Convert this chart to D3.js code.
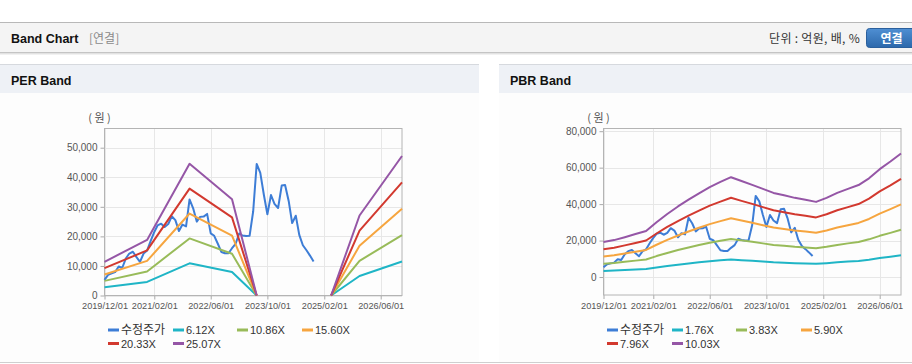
<!DOCTYPE html>
<html>
<head>
<meta charset="utf-8">
<script src="https://cdn.jsdelivr.net/npm/d3@7"></script>
<style>
  body { margin: 0; background: #fff; }
  svg { display: block; font-family: "Liberation Sans", Arial, "Noto Sans CJK KR", sans-serif; }
</style>
</head>
<body>
<div id="chart"></div>
<script>
// monthly adjusted price (수정주가), starting 2019/12
const priceStart = "2019-12";
const priceValues = [
  5300, 7000, 7500, 7900, 9800, 9300, 12500, 14200, 14800, 13000,
  11400, 14200, 15200, 18500, 21500, 23700, 24300, 23200, 24200, 26800,
  25500, 21800, 24000, 23400, 32500, 29500, 25000, 26600, 26700, 27600,
  21000, 20200, 17500, 14700, 14300, 14300, 16000, 17500, 21000, 20300,
  20100, 20200, 28500, 44500, 41500, 34000, 27500, 34000, 31000, 29600,
  37200, 37400, 32000, 24500, 27000, 20500, 17000, 15300, 13500, 11500
];

// PER band: EPS base points (null = no band)
const perDates = ["2019-12", "2020-12", "2021-12", "2022-12", "2023-07", "2024-06", "2025-04", "2025-12", "2026-12"];
const perEps = [455, 750, 1778, 1300, 0, null, 0, 1080, 1883];
const perMultiples = [6.12, 10.86, 15.60, 20.33, 25.07];

// PBR band: BPS base points
const pbrDates = [
  "2019-12", "2020-03", "2020-06", "2020-09", "2020-12", "2021-03", "2021-06", "2021-09",
  "2021-12", "2022-03", "2022-06", "2022-09", "2022-12", "2023-03", "2023-06", "2023-09",
  "2023-12", "2024-03", "2024-06", "2024-09", "2024-12", "2025-03", "2025-06", "2025-09",
  "2025-12", "2026-03", "2026-06", "2026-09", "2026-12"
];
const pbrBps = [
  1910, 2020, 2180, 2350, 2520, 3000, 3450, 3860,
  4230, 4580, 4920, 5200, 5460, 5250, 5040, 4820,
  4600, 4470, 4330, 4230, 4110, 4330, 4600, 4820,
  5030, 5400, 5900, 6320, 6760
];
const pbrMultiples = [1.76, 3.83, 5.90, 7.96, 10.03];

const xTickLabels = ["2019/12/01", "2021/02/01", "2022/06/01", "2023/10/01", "2025/02/01", "2026/06/01"];
const perYTicks = [0, 10000, 20000, 30000, 40000, 50000];
const pbrYTicks = [0, 20000, 40000, 60000, 80000];

const priceName = "수정주가";
const priceColor = "#3d7dd6";
const bandColors = ["#1fb5c6", "#98bb59", "#f6a53f", "#d2392f", "#9556a6"];

const W = 912, H = 364;
const parseMonth = d3.timeParse("%Y-%m");
const parseTick = d3.timeParse("%Y/%m/%d");

const svg = d3.select("#chart").append("svg").attr("width", W).attr("height", H);

// top title bar
svg.append("rect").attr("x", 0).attr("y", 22).attr("width", W).attr("height", 31).attr("fill", "#f4f4f4");
svg.append("line").attr("x1", 0).attr("x2", W).attr("y1", 22.5).attr("y2", 22.5).attr("stroke", "#b8b8b8");
[["#c4c4c4", 52.5], ["#e2e2e2", 53.5], ["#f1f1f1", 54.5]].forEach(([c, y]) =>
  svg.append("line").attr("x1", 0).attr("x2", W).attr("y1", y).attr("y2", y).attr("stroke", c));

svg.append("text").attr("x", 11).attr("y", 42.5).text("Band Chart")
  .style("font-size", "12.5px").style("font-weight", "bold").style("fill", "#111");
svg.append("text").attr("x", 89).attr("y", 42.5).text("[연결]")
  .style("font-family", "'Noto Sans CJK KR'").style("font-size", "12px").style("fill", "#8a8a8a");
svg.append("text").attr("x", 860).attr("y", 42.5).attr("text-anchor", "end").text("단위 : 억원, 배, %")
  .style("font-family", "'Noto Sans CJK KR'").style("font-size", "12px").style("letter-spacing", "0.3px").style("fill", "#333");

const grad = svg.append("defs").append("linearGradient").attr("id", "btn").attr("x1", 0).attr("x2", 0).attr("y1", 0).attr("y2", 1);
grad.append("stop").attr("offset", 0).attr("stop-color", "#4f8fd3");
grad.append("stop").attr("offset", 1).attr("stop-color", "#2c68ab");
svg.append("rect").attr("x", 866.5).attr("y", 28.5).attr("width", 52).attr("height", 19).attr("rx", 3)
  .attr("fill", "url(#btn)").attr("stroke", "#2a5f9c");
svg.append("text").attr("x", 891.5).attr("y", 42.5).attr("text-anchor", "middle").text("연결")
  .style("font-family", "'Noto Sans CJK KR'").style("font-size", "12px").style("font-weight", "bold").style("fill", "#fff");

// bottom rule
svg.append("line").attr("x1", 0).attr("x2", W).attr("y1", 362.5).attr("y2", 362.5).attr("stroke", "#cfcfcf");

function drawPanel(opt) {
  const g = svg.append("g");
  g.append("rect").attr("x", opt.px).attr("y", 93).attr("width", opt.pw).attr("height", 269).attr("fill", "#fdfdfd");
  g.append("rect").attr("x", opt.px).attr("y", 64).attr("width", opt.pw).attr("height", 29).attr("fill", "#eef1f6");
  g.append("line").attr("x1", opt.px).attr("x2", opt.px + opt.pw).attr("y1", 64.5).attr("y2", 64.5).attr("stroke", "#d6d9de");
  g.append("text").attr("x", opt.px + 11).attr("y", 85).text(opt.title)
    .style("font-size", "12.5px").style("font-weight", "bold").style("fill", "#111");

  const { left, right, top, bottom } = opt;
  const x = d3.scaleTime().domain([parseMonth("2019-12"), parseMonth("2026-12")]).range([left, right]);
  const y = d3.scaleLinear().domain(opt.yDomain).range([bottom, top]);
  const tickDates = xTickLabels.map(parseTick);

  // grid
  g.append("g").selectAll("line").data(opt.yTicks).join("line")
    .attr("x1", left).attr("x2", right).attr("y1", d => Math.round(y(d)) + 0.5).attr("y2", d => Math.round(y(d)) + 0.5)
    .attr("stroke", "#e7e7e7");
  g.append("g").selectAll("line").data(tickDates).join("line")
    .attr("y1", top).attr("y2", bottom).attr("x1", d => Math.round(x(d)) + 0.5).attr("x2", d => Math.round(x(d)) + 0.5)
    .attr("stroke", "#e7e7e7");

  // axes
  const yAxis = g.append("g").attr("transform", `translate(${left},0)`)
    .call(d3.axisLeft(y).tickValues(opt.yTicks).tickSize(4).tickPadding(3).tickFormat(d3.format(",")));
  yAxis.select(".domain").remove();
  yAxis.selectAll("line").attr("stroke", "#aaa");
  yAxis.selectAll("text").style("font-size", "10px").style("fill", "#555").style("font-family", "'Liberation Sans', Arial");

  const xAxis = g.append("g").attr("transform", `translate(0,${bottom})`)
    .call(d3.axisBottom(x).tickValues(tickDates).tickSize(4).tickPadding(3).tickFormat(d3.timeFormat("%Y/%m/%d")));
  xAxis.select(".domain").remove();
  xAxis.selectAll("line").attr("stroke", "#aaa");
  xAxis.selectAll("text").style("font-size", "9.2px").style("fill", "#555").style("font-family", "'Liberation Sans', Arial");

  g.append("rect").attr("x", left).attr("y", top).attr("width", right - left).attr("height", bottom - top)
    .attr("fill", "none").attr("stroke", "#b4b4b4");

  g.append("text").attr("x", left - 5).attr("y", 122).attr("text-anchor", "middle").text("( 원 )")
    .style("font-family", "'Noto Sans CJK KR'").style("font-size", "11px").style("fill", "#555");

  const line = d3.line().defined(d => d.v != null).x(d => x(d.date)).y(d => y(d.v));

  const price = priceValues.map((v, i) => ({ date: d3.timeMonth.offset(parseMonth(priceStart), i), v }));
  g.append("path").datum(price).attr("d", line).attr("fill", "none")
    .attr("stroke", priceColor).attr("stroke-width", 2).attr("stroke-linejoin", "round");

  opt.multiples.forEach((m, k) => {
    const band = opt.baseDates.map((d, i) => ({ date: parseMonth(d), v: opt.base[i] == null ? null : opt.base[i] * m }));
    g.append("path").datum(band).attr("d", line).attr("fill", "none")
      .attr("stroke", bandColors[k]).attr("stroke-width", 2).attr("stroke-linejoin", "round");
  });

  // legend
  const items = [{ name: priceName, color: priceColor }]
    .concat(opt.multiples.map((m, k) => ({ name: m.toFixed(2) + "X", color: bandColors[k] })));
  const colX = [0, 65, 129, 194];
  const lg = g.append("g").attr("transform", `translate(${left + 3.5},0)`);
  items.forEach((it, i) => {
    const cx = colX[i % 4], cy = i < 4 ? 330 : 343.5;
    lg.append("line").attr("x1", cx).attr("x2", cx + 11).attr("y1", cy).attr("y2", cy)
      .attr("stroke", it.color).attr("stroke-width", 3);
    lg.append("text").attr("x", cx + 13).attr("y", cy + 4).text(it.name)
      .style("font-family", i === 0 ? "'Noto Sans CJK KR'" : "'Liberation Sans', Arial")
      .style("font-size", i === 0 ? "12px" : "11px").style("fill", "#333");
  });
}

drawPanel({
  title: "PER Band", px: 0, pw: 479,
  left: 104.5, right: 402, top: 128.5, bottom: 295.5,
  yDomain: [0, 56500], yTicks: perYTicks,
  baseDates: perDates, base: perEps, multiples: perMultiples
});

drawPanel({
  title: "PBR Band", px: 499, pw: 413,
  left: 603.5, right: 901, top: 128.5, bottom: 295,
  yDomain: [-9860, 81480], yTicks: pbrYTicks,
  baseDates: pbrDates, base: pbrBps, multiples: pbrMultiples
});
</script>
</body>
</html>
